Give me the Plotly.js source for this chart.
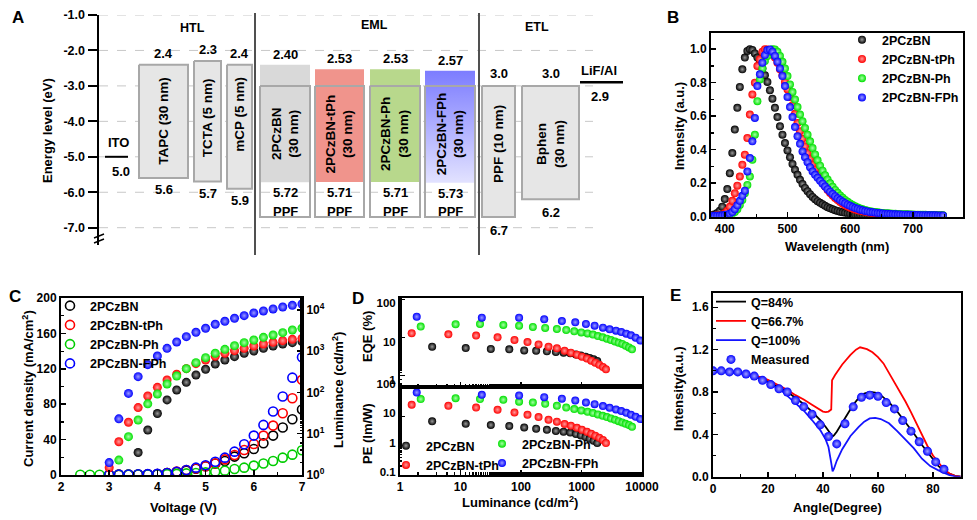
<!DOCTYPE html>
<html><head><meta charset="utf-8">
<script src="https://cdn.plot.ly/plotly-3.0.1.min.js"></script>
<style>html,body{margin:0;padding:0;background:#fff}#chart{width:977px;height:520px}</style>
</head><body><div id="chart"></div>
<script>
// ================= DATA =================
// Panel A : energy levels (eV, given as positive numbers, plotted negative)
const energyTicks = [-1, -2, -3, -4, -5, -6, -7];
const anodeLabel = 'ITO', anodeWF = '5.0';
const cathodeLabel = 'LiF/Al', cathodeWF = '2.9';
const htlLabels = ['TAPC (30 nm)', 'TCTA (5 nm)', 'mCP (5 nm)'];
const htlLumo = ['2.4', '2.3', '2.4'];
const htlHomo = ['5.6', '5.7', '5.9'];
const emlLabels = ['2PCzBN', '2PCzBN-tPh', '2PCzBN-Ph', '2PCzBN-FPh'];
const emlThickness = '(30 nm)';
const emlLumo = ['2.40', '2.53', '2.53', '2.57'];
const emlHomo = ['5.72', '5.71', '5.71', '5.73'];
const hostLabel = 'PPF', hostLumo = '3.0', hostHomo = '6.7';
const etlLabels = ['PPF (10 nm)', 'Bphen<br>(30 nm)'];
const etlLumo = ['3.0', '3.0'];
const etlHomo = ['6.7', '6.2'];
const regionLabels = ['HTL', 'EML', 'ETL'];

// Panel B : PL spectra
const seriesNames = ['2PCzBN', '2PCzBN-tPh', '2PCzBN-Ph', '2PCzBN-FPh'];
const wavelength = [380,384,388,392,396,400,404,408,412,416,420,424,428,432,436,440,444,448,452,456,460,464,468,472,476,480,484,488,492,496,500,504,508,512,516,520,524,528,532,536,540,544,548,552,556,560,564,568,572,576,580,584,588,592,596,600,604,608,612,616,620,624,628,632,636,640,644,648,652,656,660,664,668,672,676,680,684,688,692,696,700,704,708,712,716,720,724,728,732,736,740,744,748];
const plBN = [0.010,0.014,0.022,0.035,0.060,0.105,0.165,0.260,0.380,0.520,0.650,0.775,0.880,0.950,0.990,
  1.000,0.995,0.975,0.950,0.920,0.885,0.845,0.805,0.755,0.705,0.650,0.595,0.540,
  0.490,0.440,0.395,0.355,0.315,0.280,0.250,0.220,0.195,0.172,0.152,0.134,0.118,0.104,0.093,
  0.083,0.074,0.065,0.057,0.050,0.044,0.039,0.034,0.030,0.026,0.023,0.020,0.018,0.016,0.014,
  0.013,0.012,0.011,0.010,0.009,0.009,0.008,0.008,0.008,0.007,0.007,0.007,0.007,0.006,0.006,
  0.006,0.006,0.006,0.006,0.006,0.005,0.005,0.005,0.005,0.005,0.005,0.005,0.005,0.005,0.005,0.004,0.004,0.004,0.004,0.004];
const plTPh = [0.005,0.006,0.008,0.010,0.013,0.020,0.035,0.060,0.095,0.140,0.185,0.240,0.310,0.370,0.470,
  0.610,0.730,0.800,0.900,0.940,0.985,1.000,0.998,0.990,0.972,0.950,0.920,0.880,
  0.845,0.805,0.760,0.715,0.665,0.615,0.560,0.510,0.465,0.420,0.380,0.345,0.310,0.280,0.250,
  0.225,0.202,0.180,0.160,0.142,0.126,0.112,0.099,0.088,0.078,0.069,0.061,0.054,0.048,0.043,
  0.039,0.035,0.032,0.029,0.026,0.024,0.022,0.020,0.019,0.018,0.017,0.016,0.015,0.014,0.013,
  0.013,0.012,0.012,0.011,0.011,0.011,0.010,0.010,0.010,0.009,0.009,0.009,0.009,0.008,0.008,0.008,0.008,0.007,0.007,0.007];
const plPh = [0.003,0.004,0.005,0.006,0.007,0.008,0.010,0.013,0.018,0.028,0.045,0.070,0.100,0.140,0.190,
  0.240,0.340,0.490,0.690,0.820,0.885,0.930,0.960,0.985,1.000,0.998,0.985,0.960,
  0.925,0.885,0.840,0.790,0.745,0.700,0.655,0.610,0.570,0.530,0.490,0.450,0.410,0.372,0.337,
  0.305,0.275,0.248,0.222,0.200,0.179,0.160,0.143,0.127,0.113,0.100,0.089,0.079,0.070,0.062,
  0.055,0.049,0.044,0.040,0.036,0.033,0.030,0.028,0.026,0.024,0.022,0.021,0.020,0.019,0.018,
  0.017,0.016,0.015,0.015,0.014,0.014,0.013,0.013,0.012,0.012,0.011,0.011,0.011,0.010,0.010,0.010,0.009,0.009,0.009,0.008];
const plFPh = [0.004,0.005,0.006,0.007,0.008,0.010,0.013,0.018,0.028,0.045,0.068,0.095,0.125,0.155,0.270,
  0.350,0.450,0.590,0.780,0.850,0.920,0.965,0.995,0.998,0.985,0.960,0.925,0.885,
  0.840,0.780,0.715,0.655,0.595,0.535,0.480,0.435,0.390,0.355,0.325,0.295,0.270,0.250,0.232,
  0.214,0.197,0.180,0.164,0.149,0.135,0.122,0.110,0.099,0.089,0.080,0.072,0.065,0.058,0.052,
  0.047,0.042,0.038,0.034,0.031,0.028,0.026,0.024,0.022,0.020,0.019,0.018,0.017,0.016,0.015,
  0.014,0.013,0.013,0.012,0.012,0.011,0.011,0.010,0.010,0.010,0.009,0.009,0.009,0.008,0.008,0.008,0.008,0.007,0.007,0.007];

// Panel C : J-V-L
const voltage = [2.4,2.6,2.8,3.0,3.2,3.4,3.6,3.8,4.0,4.2,4.4,4.6,4.8,5.0,5.2,5.4,5.6,5.8,6.0,6.2,6.4,6.6,6.8,7.0];
const jBN  = [null,null,null,0.3,0.4,0.5,0.6,0.8,1.0,2.3,3.4,5.0,7.0,10,13,15.8,20.8,24.5,29.4,35.8,44.5,53.6,63,74];
const jTPh = [null,null,null,0.3,0.4,0.5,0.6,0.8,1.0,2.3,3.8,5.6,7.5,10,13,17.7,22.6,28.3,35,44.5,55.8,69.8,86.8,107.5];
const jPh  = [0.3,0.3,0.3,0.3,0.3,0.4,0.5,0.6,0.8,1.0,1.3,1.8,2.2,3.0,3.8,4.9,6.8,8.3,10.6,13,15.8,19.6,23,28];
const jFPh = [null,null,null,0.4,0.5,0.6,0.8,1.0,1.3,2.2,3.6,5.6,8.3,11,15,19.6,26.4,34.7,44.5,56.6,71.7,88.7,110,133];
const lBN  = [null,null,null,null,null,null,3.5,12.3,31,66,115,176,266,365,491,614,739,891,1014,1176,1341,1500,1614,1708];
const lTPh = [null,null,null,1.5,6.4,19,43,82,133,201,276,378,500,614,753,891,1033,1176,1341,1500,1644,1806,1944,2056];
const lPh  = [null,null,null,null,2.3,8.5,21.5,53,92,161,251,378,529,699,891,1113,1366,1614,1875,2173,2477,2820,3273,3594];
const lFPh = [null,null,null,2.0,23,95,242,473,767,1176,1675,2258,2875,3594,4495,5312,6281,7290,8460,9460,10570,11820,12970,13970];
const lumTicks = [1, 10, 100, 1000, 10000];
const lumTickText = ['10<sup>0</sup>','10<sup>1</sup>','10<sup>2</sup>','10<sup>3</sup>','10<sup>4</sup>'];

// Panel D : EQE / PE vs luminance
const dLumBN  = [3.4,12.2,31.7,64,113,178,268,377,505,651,809,977,1169,1361,1585,1822];
const eqeBN   = [5.75,5.3,5.0,4.9,4.6,4.5,4.35,4.17,4.0,3.85,3.6,3.4,3.15,2.9,2.68,2.42];
const peBN    = [6.8,5.6,5.1,4.7,4.2,3.8,3.5,3.2,3.0,2.8,2.5,2.25,1.97,1.73,1.48,1.23];
const dLumTPh = [1.56,6.3,18.1,41,78,128,195,285,392,525,668,840,1016,1230,1449,1690,1967,2261,2536];
const eqeTPh  = [12.9,12.1,11.2,10.1,8.6,7.6,6.6,5.75,5.2,4.5,4.0,3.55,3.15,2.8,2.47,2.19,1.94,1.69,1.47];
const peTPh   = [25,23,20,16.9,13.7,11.4,9.5,7.7,6.6,5.5,4.8,4.1,3.5,3.0,2.56,2.2,1.87,1.56,1.23];
const dLumPh  = [2.2,8.3,21,51,93,157,251,392,559,759,991,1259,1547,1866,2236,2630,3069,3574,4110,4722,5370,6100,6830];
const eqePh   = [19.3,22.2,22.6,21.3,20.4,18.9,17.8,16.7,15.7,14.5,13.6,12.8,11.9,10.9,10.1,9.3,8.6,7.9,7.3,6.8,6.1,5.5,4.9];
const pePh    = [39,42,39,37,32,30,27,23,20,17.8,16,14.4,13,11.7,10.5,9.5,8.5,7.7,6.9,6.2,5.6,5.1,4.4];
const dLumFPh = [1.89,22.5,93,242,474,789,1183,1648,2261,2917,3715,4550,5500,6577,7860,9380];
const eqeFPh  = [35,33,33,30,27,25,22.6,20.4,18.1,16.4,15.1,13.9,12.6,11.4,9.9,8.3];
const peFPh   = [65.8,54.8,52,45.6,40,35,30,26.3,22.5,19.7,17.3,15.2,13.3,11.4,9.7,8.1];

// Panel E : angular distribution
const angleQ84 = [0,5,10,15,20,25,27,30,33,36,39,41,42,43,43.5,44,45,47,49,51,53,55,57,59,61,64,67,70,73,76,79,82,85,88,90];
const intQ84   = [1.0,0.995,0.98,0.95,0.90,0.83,0.80,0.745,0.685,0.615,0.535,0.47,0.43,0.395,0.38,0.39,0.425,0.51,0.60,0.68,0.745,0.785,0.80,0.795,0.77,0.705,0.615,0.515,0.41,0.30,0.195,0.10,0.04,0.008,0.0];
const angleQ67 = [0,5,10,15,20,25,27,30,33,36,38,40,41,42,43,43.3,44.4,47,50,52,53.5,56,58,60,62,65,68,70,72,74,76,78,80,82,84,86,88,90];
const intQ67   = [1.0,0.995,0.98,0.96,0.915,0.85,0.82,0.77,0.73,0.68,0.65,0.615,0.61,0.615,0.635,0.91,0.96,1.06,1.15,1.20,1.222,1.205,1.175,1.13,1.07,0.94,0.80,0.71,0.61,0.50,0.39,0.29,0.20,0.13,0.07,0.03,0.008,0.0];
const angleQ100 = [0,5,10,15,20,25,27,30,33,36,39,41,42,43,43.5,44,45,47,50,53,55,57,59,61,64,67,70,73,76,79,82,84,86,88,90];
const intQ100   = [1.0,0.99,0.975,0.945,0.89,0.81,0.765,0.70,0.625,0.535,0.44,0.35,0.28,0.13,0.05,0.075,0.15,0.26,0.385,0.47,0.52,0.55,0.555,0.545,0.505,0.43,0.35,0.27,0.17,0.10,0.06,0.035,0.015,0.004,0.0];
const angleMeas = [0,3,6,9,12,15,18,21,24,27,30,33,36,39,42,45,48,51,54,57,60,63,66,69,72,75,78,81,84];
const intMeas   = [1.0,1.0,0.99,0.99,0.97,0.95,0.91,0.87,0.83,0.80,0.72,0.66,0.59,0.49,0.38,0.31,0.50,0.66,0.75,0.77,0.76,0.70,0.64,0.53,0.43,0.33,0.24,0.14,0.07];

// ================= LAYOUT HELPERS =================
const W = 977, H = 520;
const P = x => x / W;          // pixel x -> paper
const Q = y => 1 - y / H;      // pixel y -> paper
const FONT = 'Liberation Sans, Arial, Helvetica, sans-serif';
const colors = ['#000000', '#ff0000', '#00e000', '#0000ff'];
const sphereTint = ['#9a9a9a', '#ff9a9a', '#a8ffa8', '#9a9aff'];

// Panel A horizontal placement (pixel units of the hidden x axis)
const anodeX = [105, 128], cathodeX = [580, 623];
const htlX = [[139, 188], [194, 221], [227, 252]];
const emlX = [[260, 310], [315, 364], [370, 420], [425, 475]];
const etlX = [[482, 515], [522, 579]];
const htlTextY = [-4.0, -3.9, -3.8];
const etlTextY = [-4.65, -4.65];
const emlFill = ['#d9d9d9', '#f0948c', '#b8d88c', null];
const boxLine = {color: '#a8a8a8', width: 2};

const traces = [];
const annotations = [];
const shapes = [];
const neg = s => -Number(s);

function rect(xr, top, bottom, extra) {
  return Object.assign({type: 'scatter', mode: 'lines', xaxis: 'x', yaxis: 'y',
    x: [xr[0], xr[1], xr[1], xr[0], xr[0]], y: [top, top, bottom, bottom, top],
    hoverinfo: 'skip', showlegend: false}, extra);
}
function txt(text, x, y, extra) {
  return Object.assign({text: text, x: x, y: y, xref: 'x', yref: 'y', showarrow: false,
    font: {size: 13, weight: 'bold', family: FONT}}, extra);
}
function paperTxt(text, x, y, extra) {
  return Object.assign({text: text, x: P(x), y: Q(y), xref: 'paper', yref: 'paper', showarrow: false,
    xanchor: 'center', yanchor: 'middle', font: {size: 13, weight: 'bold', family: FONT}}, extra);
}
const mid = xr => (xr[0] + xr[1]) / 2;
const vf = {size: 13.5, weight: 'bold', family: FONT};

// ---- Panel A ----
energyTicks.forEach(v => shapes.push({type: 'line', xref: 'x', yref: 'y', x0: 99, x1: 593, y0: v, y1: v,
  line: {color: '#c8c8c8', width: 1, dash: 'dash'}, layer: 'below'}));
traces.push({type: 'scatter', mode: 'lines', xaxis: 'x', yaxis: 'y', x: anodeX, y: [neg(anodeWF), neg(anodeWF)],
  line: {color: '#000', width: 2}, hoverinfo: 'skip', showlegend: false});
annotations.push(txt(anodeLabel, mid(anodeX) + 2, neg(anodeWF), {yanchor: 'bottom', yshift: 5}));
annotations.push(txt(anodeWF, mid(anodeX) + 4, neg(anodeWF), {yanchor: 'top', yshift: -5}));
htlLabels.forEach((lab, i) => {
  traces.push(rect(htlX[i], neg(htlLumo[i]), neg(htlHomo[i]), {fill: 'toself', fillcolor: '#e6e6e6', line: boxLine}));
  annotations.push(txt(htlLumo[i], mid(htlX[i]), neg(htlLumo[i]), {yanchor: 'bottom', yshift: 2}));
  annotations.push(txt(htlHomo[i], mid(htlX[i]), neg(htlHomo[i]), {yanchor: 'top', yshift: -2}));
  annotations.push(txt(lab, mid(htlX[i]), htlTextY[i], {textangle: -90, font: vf}));
});
emlLabels.forEach((lab, i) => {
  const blk = rect(emlX[i], neg(emlLumo[i]), neg(emlHomo[i]), {fill: 'toself', line: {width: 0, color: 'rgba(0,0,0,0)'}});
  if (emlFill[i]) blk.fillcolor = emlFill[i];
  else blk.fillgradient = {type: 'vertical', colorscale: [[0, '#e2e2ff'], [1, '#7c7cff']]};
  traces.push(blk);
  traces.push(rect(emlX[i], neg(hostLumo), neg(hostHomo), {line: boxLine}));
  annotations.push(txt(emlLumo[i], mid(emlX[i]), neg(emlLumo[i]), {yanchor: 'bottom', yshift: 1}));
  annotations.push(txt(emlHomo[i], mid(emlX[i]), neg(emlHomo[i]), {yanchor: 'top', yshift: -1}));
  annotations.push(txt(hostLabel, mid(emlX[i]), neg(hostHomo), {yanchor: 'middle', yshift: 6}));
  annotations.push(txt(lab + '<br>' + emlThickness, mid(emlX[i]), (neg(hostLumo) + neg(emlHomo[i])) / 2, {textangle: -90, font: vf}));
});
etlLabels.forEach((lab, i) => {
  traces.push(rect(etlX[i], neg(etlLumo[i]), neg(etlHomo[i]), {fill: 'toself', fillcolor: '#e6e6e6', line: boxLine}));
  annotations.push(txt(etlLumo[i], mid(etlX[i]), neg(etlLumo[i]), {yanchor: 'bottom', yshift: 3}));
  annotations.push(txt(etlHomo[i], mid(etlX[i]), neg(etlHomo[i]), {yanchor: 'top', yshift: -4}));
  annotations.push(txt(lab, mid(etlX[i]), etlTextY[i], {textangle: -90, font: vf}));
});
traces.push({type: 'scatter', mode: 'lines', xaxis: 'x', yaxis: 'y', x: cathodeX, y: [neg(cathodeWF), neg(cathodeWF)],
  line: {color: '#000', width: 2.5}, hoverinfo: 'skip', showlegend: false});
annotations.push(txt(cathodeLabel, mid(cathodeX) - 3, neg(cathodeWF), {yanchor: 'bottom', yshift: 2}));
annotations.push(txt(cathodeWF, mid(cathodeX) - 2, neg(cathodeWF), {yanchor: 'top', yshift: -5}));
annotations.push(paperTxt(regionLabels[0], 192, 28, {font: {size: 12.5, weight: 'bold', family: FONT}}));
annotations.push(paperTxt(regionLabels[1], 374, 25, {font: {size: 12.5, weight: 'bold', family: FONT}}));
annotations.push(paperTxt(regionLabels[2], 537, 27, {font: {size: 12.5, weight: 'bold', family: FONT}}));
[255, 479].forEach(xp => shapes.push({type: 'line', xref: 'paper', yref: 'paper', x0: P(xp), x1: P(xp), y0: Q(13), y1: Q(255),
  line: {color: '#505050', width: 2}}));
shapes.push({type: 'line', xref: 'paper', yref: 'paper', x0: P(94), x1: P(104), y0: Q(238), y1: Q(234), line: {color: '#000', width: 1.5}});
shapes.push({type: 'line', xref: 'paper', yref: 'paper', x0: P(94), x1: P(104), y0: Q(243), y1: Q(239), line: {color: '#000', width: 1.5}});

// ---- Panel B ----
const plSeries = [plBN, plTPh, plPh, plFPh];
plSeries.forEach((s, i) => traces.push({type: 'scatter', mode: 'markers', xaxis: 'x2', yaxis: 'y2', name: seriesNames[i],
  x: wavelength, y: s, legend: 'legend2',
  marker: {size: 8, color: colors[i], gradient: {type: 'radial', color: sphereTint[i]}, line: {width: 0}}, hoverinfo: 'skip'}));

// ---- Panel C ----
const jSeries = [jBN, jTPh, jPh, jFPh];
const lSeries = [lBN, lTPh, lPh, lFPh];
const openColors = ['#000000', '#ff0000', '#00cc00', '#0000ff'];
jSeries.forEach((s, i) => traces.push({type: 'scatter', mode: 'markers', xaxis: 'x3', yaxis: 'y3', name: seriesNames[i],
  x: voltage, y: s, legend: 'legend3',
  marker: {symbol: 'circle-open', size: 9, color: openColors[i], line: {width: 1.6}}, hoverinfo: 'skip'}));
lSeries.forEach((s, i) => traces.push({type: 'scatter', mode: 'markers', xaxis: 'x3', yaxis: 'y4', name: seriesNames[i],
  x: voltage, y: s, showlegend: false,
  marker: {size: 9, color: colors[i], gradient: {type: 'radial', color: sphereTint[i]}, line: {width: 0}}, hoverinfo: 'skip'}));

// ---- Panel D ----
const dLum = [dLumBN, dLumTPh, dLumPh, dLumFPh];
const eqe = [eqeBN, eqeTPh, eqePh, eqeFPh];
const pe = [peBN, peTPh, pePh, peFPh];
const dLegend = ['legend4', 'legend4', 'legend5', 'legend5'];
eqe.forEach((s, i) => traces.push({type: 'scatter', mode: 'markers', xaxis: 'x5', yaxis: 'y5', name: seriesNames[i],
  x: dLum[i], y: s, showlegend: false,
  marker: {size: 8, color: colors[i], gradient: {type: 'radial', color: sphereTint[i]}, line: {width: 0}}, hoverinfo: 'skip'}));
pe.forEach((s, i) => traces.push({type: 'scatter', mode: 'markers', xaxis: 'x4', yaxis: 'y6', name: seriesNames[i],
  x: dLum[i], y: s, legend: dLegend[i],
  marker: {size: 8, color: colors[i], gradient: {type: 'radial', color: sphereTint[i]}, line: {width: 0}}, hoverinfo: 'skip'}));

// ---- Panel E ----
traces.push({type: 'scatter', mode: 'lines', xaxis: 'x6', yaxis: 'y7', name: 'Q=84%', x: angleQ84, y: intQ84,
  line: {color: '#000', width: 1.8}, legend: 'legend6', hoverinfo: 'skip'});
traces.push({type: 'scatter', mode: 'lines', xaxis: 'x6', yaxis: 'y7', name: 'Q=66.7%', x: angleQ67, y: intQ67,
  line: {color: '#ff0000', width: 1.8}, legend: 'legend6', hoverinfo: 'skip'});
traces.push({type: 'scatter', mode: 'lines', xaxis: 'x6', yaxis: 'y7', name: 'Q=100%', x: angleQ100, y: intQ100,
  line: {color: '#1414ff', width: 1.8}, legend: 'legend6', hoverinfo: 'skip'});
traces.push({type: 'scatter', mode: 'markers', xaxis: 'x6', yaxis: 'y7', name: 'Measured', x: angleMeas, y: intMeas,
  marker: {size: 9, color: '#0000ff', gradient: {type: 'radial', color: '#a0a0ff'}, line: {width: 0}}, legend: 'legend6', hoverinfo: 'skip'});

// ================= AXES =================
function frame(extra) {
  return Object.assign({showline: true, linewidth: 2, linecolor: '#000', mirror: true, ticks: 'inside', ticklen: 5,
    tickwidth: 1.5, tickcolor: '#000', showgrid: false, zeroline: false, fixedrange: true,
    tickfont: {size: 12, weight: 'bold', family: FONT, color: '#000'}}, extra);
}
const minorIn = (d, len) => ({dtick: d, ticks: 'inside', ticklen: len || 3, tickcolor: '#000', tickwidth: 1.2, showgrid: false});
const dTickFont = {size: 11.5, weight: 'bold', family: FONT, color: '#000'};

const tf = {size: 13, weight: 'bold', family: FONT};
annotations.push(paperTxt('Energy level (eV)', 47, 131, {textangle: -90, font: tf}));
annotations.push(paperTxt('Intensity (a.u.)', 679, 126, {textangle: -90, font: tf}));
annotations.push(paperTxt('Wavelength (nm)', 837, 246, {font: tf}));
annotations.push(paperTxt('Current density (mA/cm<sup>2</sup>)', 28, 389, {textangle: -90, font: tf}));
annotations.push(paperTxt('Voltage (V)', 183, 507, {font: tf}));
annotations.push(paperTxt('Luminance (cd/m<sup>2</sup>)', 338, 390, {textangle: -90, font: tf}));
annotations.push(paperTxt('EQE (%)', 367, 337, {textangle: -90, font: tf}));
annotations.push(paperTxt('PE (lm/W)', 367, 434, {textangle: -90, font: tf}));
annotations.push(paperTxt('Luminance (cd/m<sup>2</sup>)', 520, 502, {font: tf}));
annotations.push(paperTxt('Intensity(a.u.)', 678, 389, {textangle: -90, font: tf}));
annotations.push(paperTxt('Angle(Degree)', 837, 507, {font: tf}));
const lf = {size: 17, weight: 'bold', family: FONT};
[['A', 18, 18], ['B', 673, 18], ['C', 15, 296], ['D', 358, 298], ['E', 675, 295]].forEach(a =>
  annotations.push(paperTxt(a[0], a[1], a[2], {font: lf})));

const legBase = {bgcolor: 'rgba(0,0,0,0)', borderwidth: 0, xanchor: 'left', yanchor: 'top',
  font: {size: 12.5, weight: 'bold', family: FONT, color: '#000'}, tracegroupgap: 0};

const layout = {
  width: W, height: H, margin: {l: 0, r: 0, t: 0, b: 0, pad: 0},
  paper_bgcolor: '#fff', plot_bgcolor: 'rgba(0,0,0,0)',
  font: {family: FONT, size: 12, color: '#000', weight: 'bold'},
  showlegend: true, hovermode: false,
  xaxis: {domain: [P(99), P(625)], range: [99, 625], visible: false, fixedrange: true},
  yaxis: {domain: [Q(245), Q(15)], anchor: 'x', range: [-7.488, -1], tickmode: 'array', tickvals: energyTicks,
    ticktext: energyTicks.map(v => v.toFixed(1)), ticks: 'outside', ticklen: 9, tickwidth: 2, tickcolor: '#000',
    showline: true, linewidth: 2.5, linecolor: '#000', showgrid: false, zeroline: false, fixedrange: true,
    tickfont: {size: 12.5, weight: 'bold', family: FONT}},
  xaxis2: frame({domain: [P(711), P(963)], anchor: 'y2', range: [378, 780], tick0: 0, dtick: 100, minor: minorIn(50)}),
  yaxis2: frame({domain: [Q(216.7), Q(33)], anchor: 'x2', range: [0, 1.097], tick0: 0, dtick: 0.2, tickformat: '.1f', minor: minorIn(0.1)}),
  xaxis3: frame({domain: [P(61), P(302)], anchor: 'y3', range: [2, 7], dtick: 1, minor: minorIn(0.5)}),
  yaxis3: frame({domain: [Q(475), Q(298)], anchor: 'x3', range: [0, 200], dtick: 40, minor: minorIn(20)}),
  yaxis4: frame({overlaying: 'y3', side: 'right', anchor: 'x3', type: 'log', range: [0, 4.29], tickmode: 'array',
    tickvals: lumTicks, ticktext: lumTickText, mirror: false, minor: {ticks: 'inside', ticklen: 2, tickcolor: '#000'}}),
  xaxis4: frame({domain: [P(400), P(642)], anchor: 'y6', type: 'log', range: [0, 4], tickmode: 'array',
    tickvals: [1, 10, 100, 1000, 10000], ticktext: ['1', '10', '100', '1000', '10000'],
    minor: {ticks: 'inside', ticklen: 3, tickcolor: '#000'}}),
  yaxis6: frame({domain: [Q(475), Q(387)], anchor: 'x4', type: 'log', range: [-1, 2.005], tickmode: 'array',
    tickvals: [0.1, 1, 10, 100], ticktext: ['0.1', '1', '10', '100'], ticklabelshift: -3, tickfont: dTickFont,
    minor: {ticks: 'inside', ticklen: 2, tickcolor: '#000'}}),
  xaxis5: frame({domain: [P(400), P(642)], anchor: 'y5', type: 'log', range: [0, 4], tickmode: 'array',
    tickvals: [1, 10, 100, 1000, 10000], showticklabels: false, minor: {ticks: 'inside', ticklen: 3, tickcolor: '#000'}}),
  yaxis5: frame({domain: [Q(387), Q(298)], anchor: 'x5', type: 'log', range: [-0.296, 2.034], tickmode: 'array',
    tickvals: [1, 10, 100], ticktext: ['1', '10', '100'], ticklabelshift: 4, tickfont: dTickFont,
    minor: {ticks: 'inside', ticklen: 2, tickcolor: '#000'}}),
  xaxis6: frame({domain: [P(713), P(961)], anchor: 'y7', range: [0, 90.2], dtick: 20, minor: minorIn(10)}),
  yaxis7: frame({domain: [Q(476.7), Q(293)], anchor: 'x6', range: [0, 1.735], dtick: 0.4, tickformat: '.1f', minor: minorIn(0.2)}),
  legend2: Object.assign({}, legBase, {x: P(842), y: Q(25)}),
  legend3: Object.assign({}, legBase, {x: P(50), y: Q(291)}),
  legend4: Object.assign({}, legBase, {x: P(386), y: Q(431)}),
  legend5: Object.assign({}, legBase, {x: P(482), y: Q(429)}),
  legend6: Object.assign({}, legBase, {x: P(711), y: Q(287)}),
  annotations: annotations,
  shapes: shapes
};

Plotly.newPlot('chart', traces, layout, {staticPlot: true, displayModeBar: false});
</script>
</body></html>
